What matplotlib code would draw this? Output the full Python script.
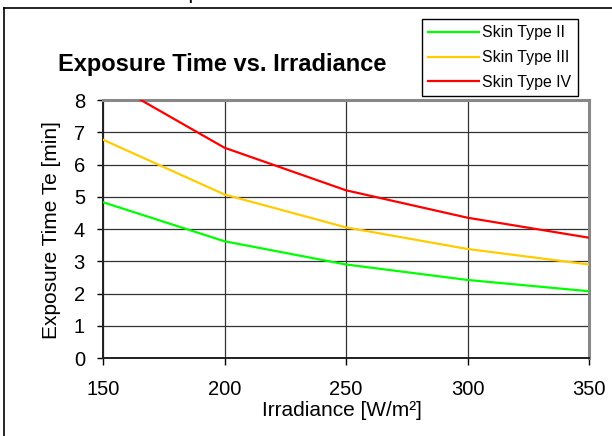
import matplotlib
matplotlib.use("Agg")
import matplotlib.pyplot as plt
from matplotlib.lines import Line2D

plt.rcParams['font.family'] = ['Liberation Sans', 'DejaVu Sans']

# data
irradiance = [150, 200, 250, 300, 350]
skin_ii = [4.83, 3.62, 2.90, 2.42, 2.07]
skin_iii = [6.77, 5.07, 4.05, 3.38, 2.90]
skin_iv = [8.67, 6.52, 5.20, 4.35, 3.73]
series_names = ['Skin Type II', 'Skin Type III', 'Skin Type IV']
series_colors = ['#00FF00', '#FFCC00', '#FF0000']

W, H = 612, 436
fig = plt.figure(figsize=(W / 100, H / 100), dpi=100)

def fx(px):
    return px / W

def fy(py):
    return 1 - py / H

# outer chart frame (cut at right/bottom of the picture)
fig.add_artist(Line2D([fx(4), 1.0], [fy(8), fy(8)], color='black', lw=1.2))
fig.add_artist(Line2D([fx(4), fx(4)], [fy(8), 0.0], color='black', lw=1.2))

# heading above the frame, mostly outside the picture
fig.text(fx(25), fy(-2), 'Max. Sunbed Exposure Time', fontsize=16, va='baseline', ha='left')

ax = fig.add_axes([fx(103), fy(358), fx(589) - fx(103), fy(100) - fy(358)])

for vals, name, col in zip([skin_ii, skin_iii, skin_iv], series_names, series_colors):
    ax.plot(irradiance, vals, color=col, lw=1.6, label=name, zorder=3)

ax.set_xlim(150, 350)
ax.set_ylim(0, 8)
ax.set_xticks(irradiance)
ax.set_yticks(range(0, 9))
ax.grid(True, color='#333333', lw=0.9, zorder=1)
ax.set_axisbelow(True)

for s in ['left', 'bottom']:
    ax.spines[s].set_color('#202020')
    ax.spines[s].set_linewidth(1.4)
for s in ['top', 'right']:
    ax.spines[s].set_color('#888888')
    ax.spines[s].set_linewidth(2.2)

ax.tick_params(axis='y', direction='out', length=4, width=1, pad=9, labelsize=14.5)
ax.tick_params(axis='x', direction='out', length=5, width=1, pad=11, labelsize=14.5)

fig.text(fx(52), fy(230), 'Exposure Time Te [min]', rotation=90, fontsize=15,
         ha='center', va='center')
fig.text(fx(342), fy(416), 'Irradiance [W/m²]', fontsize=15, ha='center', va='baseline')
fig.text(fx(222), fy(71), 'Exposure Time vs. Irradiance', fontsize=17, fontweight='bold',
         ha='center', va='baseline')

leg = fig.legend(loc='upper left', bbox_to_anchor=(fx(422), fy(19)), fontsize=11.4,
                 handlelength=3.2, handletextpad=0.2, labelspacing=0.62,
                 borderpad=0.4, borderaxespad=0, fancybox=False, framealpha=1,
                 edgecolor='black')
leg.get_frame().set_linewidth(1.0)

fig.savefig('out.png', dpi=100)
